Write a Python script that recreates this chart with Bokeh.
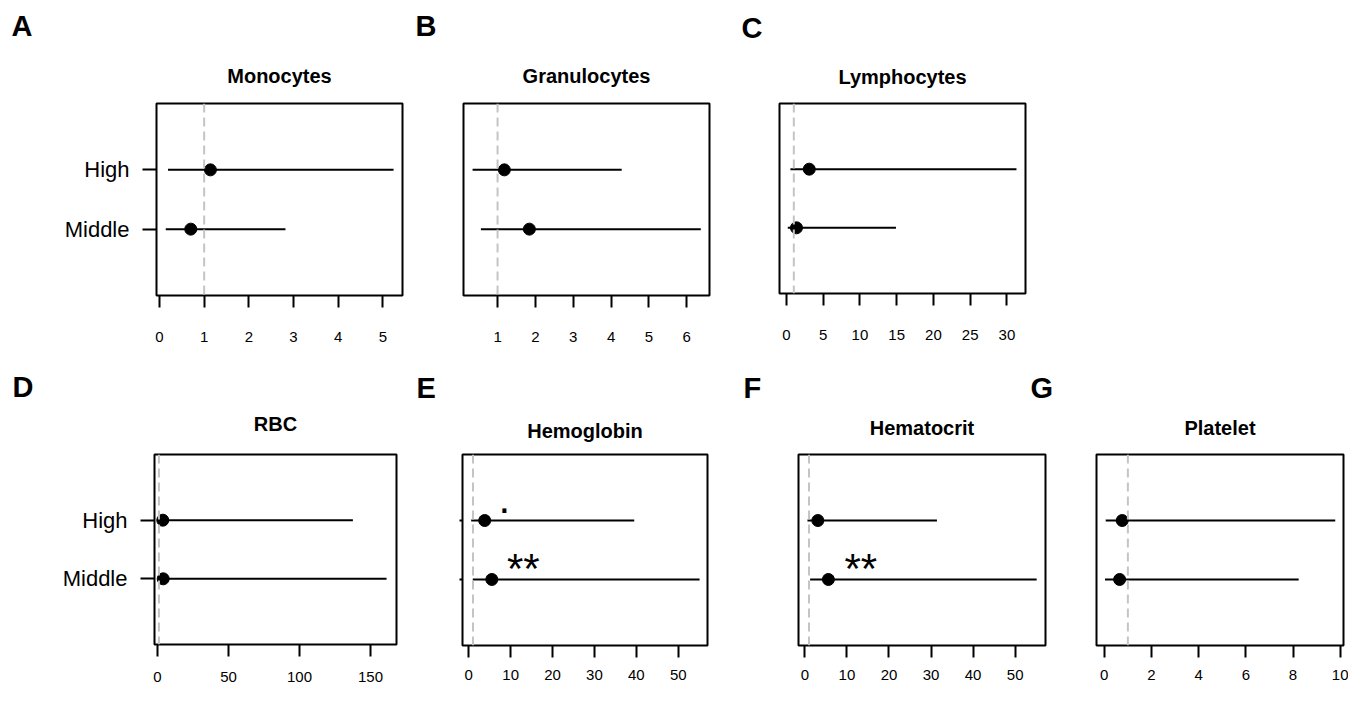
from bokeh.plotting import figure
from bokeh.models import Range1d, FixedTicker, Span, Title
from bokeh.layouts import row, column
from bokeh.embed import file_html
from bokeh.resources import INLINE
from bokeh.core.properties import value

# ---------------- data ----------------
groups = ["High", "Middle"]
group_pos = [2, 1]

mono_est = [1.14, 0.70]
mono_lo = [0.19, 0.14]
mono_hi = [5.24, 2.82]

gran_est = [1.18, 1.84]
gran_lo = [0.34, 0.56]
gran_hi = [4.28, 6.37]

lymph_est = [3.1, 1.36]
lymph_lo = [0.54, 0.18]
lymph_hi = [31.3, 14.9]

rbc_est = [3.7, 4.0]
rbc_lo = [0.6, 0.8]
rbc_hi = [137.6, 161.3]

hgb_est = [3.8, 5.5]
hgb_lo = [0.57, 0.95]
hgb_hi = [39.5, 55.1]

hct_est = [3.1, 5.6]
hct_lo = [0.63, 1.26]
hct_hi = [31.4, 55.1]

plt_est = [0.76, 0.65]
plt_lo = [0.06, 0.03]
plt_hi = [9.79, 8.24]

mono_ticks = [0, 1, 2, 3, 4, 5]
gran_ticks = [1, 2, 3, 4, 5, 6]
lymph_ticks = [0, 5, 10, 15, 20, 25, 30]
rbc_ticks = [0, 50, 100, 150]
hgb_ticks = [0, 10, 20, 30, 40, 50]
hct_ticks = [0, 10, 20, 30, 40, 50]
plt_ticks = [0, 2, 4, 6, 8, 10]

# significance marks: (text, x, y)
hgb_marks = [(".", 8.5, 2.37), ("**", 13.0, 1.19)]
hct_marks = [("**", 13.3, 1.19)]

FONT = "Liberation Sans"


def make_title(text, size, align, offset, standoff):
    t = Title(text=text, align=align, offset=offset, text_font=FONT,
              text_font_style="bold", text_font_size=size, text_color="black")
    try:
        t.standoff = standoff
    except Exception:
        t.standoff = 0
    return t


def panel(title, letter, lo, est, hi, xr, ticks, fw, fh, bl, br, bt, bb,
          ymode, name_standoff, letter_offset, letter_standoff, x_standoff,
          marks=(), margin=None):
    kw = {}
    if margin is not None:
        kw["margin"] = margin
    p = figure(frame_width=fw, frame_height=fh,
               min_border_left=bl, min_border_right=br,
               min_border_top=bt, min_border_bottom=bb,
               x_range=Range1d(*xr), y_range=Range1d(-0.12, 3.12),
               output_backend="svg", toolbar_location=None, **kw)
    p.title.text = ""
    p.title.visible = False
    p.add_layout(make_title(title, "20px", "center", 0, name_standoff), "above")
    p.add_layout(make_title(letter, "29px", "left", letter_offset, letter_standoff), "above")

    p.outline_line_color = "black"
    p.outline_line_width = 2
    p.outline_line_alpha = 1
    p.xgrid.visible = False
    p.ygrid.visible = False
    p.background_fill_color = "white"
    p.border_fill_color = None

    ax = p.xaxis[0]
    ax.ticker = FixedTicker(ticks=ticks)
    ax.axis_line_color = None
    ax.major_tick_out = 12
    ax.major_tick_in = 0
    ax.major_tick_line_width = 2
    ax.major_tick_line_color = "black"
    ax.minor_tick_line_color = None
    ax.major_label_text_font = FONT
    ax.major_label_text_font_size = "15px"
    ax.major_label_text_color = "black"
    ax.major_label_standoff = x_standoff

    ay = p.yaxis[0]
    if ymode == "none":
        ay.visible = False
    else:
        ay.ticker = FixedTicker(ticks=group_pos)
        ay.axis_line_color = None
        ay.minor_tick_line_color = None
        ay.major_tick_in = 0
        ay.major_tick_line_color = "black"
        ay.major_tick_line_width = 2
        if ymode == "labels":
            ay.major_label_overrides = {g: n for g, n in zip(group_pos, groups)}
            ay.major_tick_out = 14
            ay.major_label_standoff = 13
            ay.major_label_text_font = FONT
            ay.major_label_text_font_size = "22px"
            ay.major_label_text_color = "black"
            ay.major_label_orientation = "horizontal"
        else:
            ay.major_label_overrides = {g: "" for g in group_pos}
            ay.major_tick_out = 3
            ay.major_label_standoff = 0
            ay.major_label_text_font_size = "1px"

    p.add_layout(Span(location=1, dimension="height", line_color="#c4c4c4",
                      line_width=2, line_dash="9 5"))
    p.segment(x0=lo, y0=group_pos, x1=hi, y1=group_pos,
              line_color="black", line_width=2)
    p.scatter(x=est, y=group_pos, size=12, color="black")

    for txt, mx, my in marks:
        p.text(x=[mx], y=[my], text=[txt], text_font=value(FONT),
               text_font_size="42px", text_align="center",
               text_baseline="middle", text_color="black")
    return p


pA = panel("Monocytes", "A", mono_lo, mono_est, mono_hi,
           (-0.067, 5.44), mono_ticks, 246, 192, 156, 8, 100, 58, "labels",
           34, -145, 7, 24)
pB = panel("Granulocytes", "B", gran_lo, gran_est, gran_hi,
           (0.10, 6.60), gran_ticks, 246, 192, 53, 26, 100, 58, "none",
           34, -48, 7, 24)
pC = panel("Lymphocytes", "C", lymph_lo, lymph_est, lymph_hi,
           (-0.95, 32.53), lymph_ticks, 246, 190, 44, 15, 103, 57, "none",
           32, -38, 7, 24)

pD = panel("RBC", "D", rbc_lo, rbc_est, rbc_hi,
           (-2.12, 168.3), rbc_ticks, 242, 190, 154, 14, 102, 45, "labels",
           40, -142, -25, 15)
pE = panel("Hemoglobin", "E", hgb_lo, hgb_est, hgb_hi,
           (-1.50, 56.99), hgb_ticks, 245, 191, 52, 28, 104, 42, "stubs",
           25, -46, 3, 12, marks=hgb_marks)
pF = panel("Hematocrit", "F", hct_lo, hct_est, hct_hi,
           (-1.5, 57.2), hct_ticks, 247, 191, 63, 5, 104, 42, "none",
           31, -55, -9, 12, marks=hct_marks)
pG = panel("Platelet", "G", plt_lo, plt_est, plt_hi,
           (-0.33, 10.14), plt_ticks, 247, 191, 68, 5, 104, 42, "none",
           31, -66, -9, 12, margin=(0, 0, 0, -22))

layout = column(row(pA, pB, pC), row(pD, pE, pF, pG))

open("out.html", "w").write(file_html(layout, INLINE))
